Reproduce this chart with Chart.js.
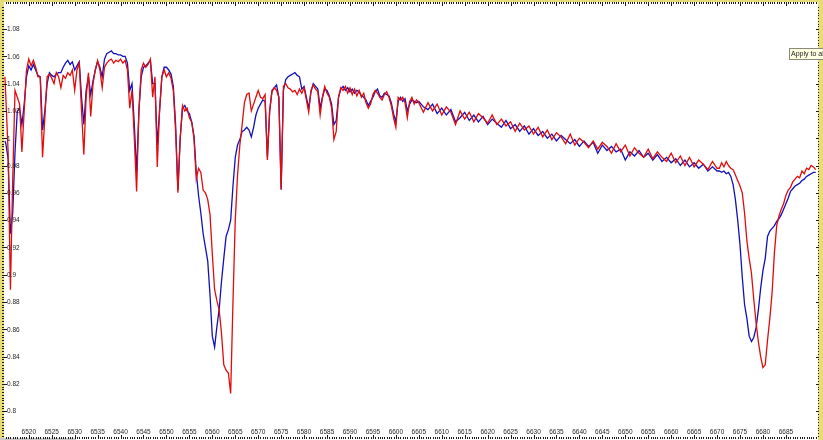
<!DOCTYPE html>
<html>
<head>
<meta charset="utf-8">
<script src="https://cdn.jsdelivr.net/npm/chart.js@4.4.0/dist/chart.umd.min.js"></script>
<style>
html, body { margin:0; padding:0; background:#fff; }
#wrap { width:823px; height:440px; position:relative; }
</style>
</head>
<body>
<div id="wrap"><canvas id="spec"></canvas></div>
<script>
// wavelength grid (Angstrom) shared by both spectra
var wavelength = [
6514.8,6515,6515.5,6516,6516.5,6517,6517.5,6518,6518.5,6519,6519.5,
6520,6520.5,6521,6521.5,6522,6522.5,6523,6523.5,6524,6524.5,
6525,6525.5,6526,6526.5,6527,6527.5,6528,6528.5,6529,6529.5,
6530,6530.5,6531,6531.5,6532,6532.5,6533,6533.5,6534,6534.5,
6535,6535.5,6536,6536.5,6537,6537.5,6538,6538.5,6539,6539.5,
6540,6540.5,6541,6541.5,6542,6542.5,6543,6543.5,6544,6544.5,
6545,6545.5,6546,6546.5,6547,6547.5,6548,6548.5,6549,6549.5,
6550,6550.5,6551,6551.5,6552,6552.5,6553,6553.5,6554,6554.5,
6555,6555.5,6556,6556.5,6557,6557.5,6558,6558.5,6559,6559.5,
6560,6560.5,6561,6561.5,6562,6562.5,6563,6563.5,6564,6564.5,
6565,6565.5,6566,6566.5,6567,6567.5,6568,6568.5,6569,6569.5,
6570,6570.5,6571,6571.5,6572,6572.5,6573,6573.5,6574,6574.5,
6575,6575.5,6576,6576.5,6577,6577.5,6578,6578.5,6579,6579.5,
6580,6580.5,6581,6581.5,6582,6582.5,6583,6583.5,6584,6584.5,
6585,6585.5,6586,6586.5,6587,6587.5,6588,6588.5,6589,6589.5,
6590,6590.5,6591,6591.5,6592,6592.5,6593,6593.5,6594,6594.5,
6595,6595.5,6596,6596.5,6597,6597.5,6598,6598.5,6599,6599.5,
6600,6600.5,6601,6601.5,6602,6602.5,6603,6603.5,6604,6604.5,6605,
6606,6607,6608,6609,6610,6611,6612,6613,6614,6615,
6616,6617,6618,6619,6620,6621,6622,6623,6624,6625,
6626,6627,6628,6629,6630,6631,6632,6633,6634,6635,
6636,6637,6638,6639,6640,6641,6642,6643,6644,6645,
6646,6647,6648,6649,6650,6651,6652,6653,6654,6655,
6656,6657,6658,6659,6660,6661,6662,6663,6664,6665,
6666,6667,6668,6669,6670,
6670.5,6671,6671.5,6672,6672.5,6673,6673.5,6674,6674.5,6675,
6675.5,6676,6676.5,6677,6677.5,6678,6678.5,6679,6679.5,6680,
6680.5,6681,6681.5,6682,6682.5,6683,6683.5,6684,6684.5,6685,
6685.5,6686,6686.5,6687,6687.5,6688,6688.5,6689,6689.5,6690,
6690.5,6691,6691.5
];

var fluxRed = [
1.045,1.030,0.990,0.889,0.970,1.035,1.030,1.025,0.990,1.020,1.050,
1.058,1.053,1.057,1.052,1.045,1.045,0.986,1.015,1.045,1.047,
1.044,1.040,1.048,1.045,1.037,1.046,1.044,1.048,1.046,1.050,
1.035,1.050,1.055,1.020,0.988,1.030,1.048,1.016,1.040,1.050,
1.057,1.050,1.037,1.052,1.055,1.057,1.058,1.055,1.057,1.056,
1.058,1.055,1.057,1.050,1.022,1.035,1.000,0.961,1.020,1.050,
1.055,1.052,1.054,1.058,1.030,1.045,0.979,1.020,1.045,1.050,
1.045,1.048,1.044,1.035,1.005,0.960,1.000,1.024,1.020,1.022,
1.015,1.012,1.000,0.970,0.978,0.975,0.962,0.960,0.955,0.944,
0.915,0.889,0.881,0.874,0.857,0.834,0.830,0.828,0.813,0.880,
0.940,0.973,0.995,1.010,1.026,1.032,1.033,1.020,1.025,1.030,
1.035,1.030,1.029,1.032,0.984,1.020,1.034,1.037,1.035,1.030,
0.962,1.038,1.040,1.037,1.036,1.034,1.035,1.032,1.036,1.033,
1.037,1.028,1.019,1.035,1.039,1.036,1.034,1.017,1.030,1.038,
1.033,1.030,1.022,0.999,1.005,1.030,1.037,1.035,1.038,1.033,
1.037,1.032,1.036,1.031,1.035,1.030,1.033,1.026,1.022,1.025,
1.032,1.035,1.033,1.030,1.028,1.032,1.034,1.030,1.024,1.015,
1.008,1.030,1.028,1.030,1.026,1.015,1.027,1.030,1.025,1.028,1.026,
1.019,1.026,1.020,1.025,1.017,1.023,1.019,1.010,1.020,1.014,
1.019,1.012,1.018,1.015,1.011,1.017,1.010,1.014,1.009,1.012,
1.005,1.011,1.006,1.009,1.003,1.008,1.001,1.006,0.999,1.004,
1.001,0.996,1.003,0.995,1.000,0.997,0.993,0.998,0.992,0.997,
0.994,0.989,0.996,0.990,0.995,0.987,0.993,0.989,0.986,0.992,
0.985,0.990,0.986,0.983,0.989,0.982,0.987,0.980,0.986,0.979,
0.984,0.981,0.977,0.983,0.978,
0.978,0.982,0.979,0.983,0.980,0.978,0.977,0.973,0.969,0.965,
0.960,0.945,0.925,0.912,0.901,0.882,0.865,0.851,0.840,0.832,
0.834,0.852,0.868,0.887,0.916,0.936,0.943,0.948,0.952,0.958,
0.962,0.964,0.968,0.970,0.972,0.971,0.976,0.974,0.978,0.977,
0.980,0.979,0.977
];

var fluxBlue = [
0.998,0.996,0.985,0.930,0.945,0.990,1.020,1.022,1.010,1.025,1.045,
1.053,1.050,1.054,1.050,1.046,1.045,1.006,1.020,1.040,1.048,
1.046,1.045,1.047,1.048,1.048,1.052,1.055,1.057,1.054,1.056,
1.050,1.053,1.056,1.030,1.010,1.035,1.045,1.032,1.042,1.050,
1.056,1.052,1.045,1.058,1.062,1.063,1.064,1.062,1.062,1.061,
1.061,1.060,1.060,1.055,1.035,1.040,1.010,0.975,1.020,1.045,
1.052,1.053,1.055,1.057,1.040,1.040,0.995,1.020,1.045,1.052,
1.052,1.050,1.047,1.038,1.010,0.962,1.000,1.022,1.024,1.020,
1.018,1.012,1.002,0.975,0.958,0.945,0.930,0.920,0.910,0.885,
0.855,0.847,0.862,0.875,0.895,0.912,0.928,0.933,0.940,0.965,
0.986,0.995,0.999,1.005,1.006,1.008,1.006,1.001,1.008,1.017,
1.022,1.025,1.028,1.027,0.986,1.020,1.035,1.037,1.039,1.030,
0.963,1.035,1.043,1.045,1.046,1.047,1.048,1.046,1.045,1.036,
1.038,1.030,1.022,1.034,1.040,1.038,1.036,1.022,1.030,1.036,
1.035,1.031,1.025,1.010,1.013,1.030,1.036,1.038,1.035,1.037,
1.034,1.036,1.033,1.035,1.034,1.031,1.030,1.028,1.024,1.027,
1.030,1.034,1.036,1.031,1.030,1.033,1.032,1.031,1.026,1.018,
1.012,1.027,1.030,1.027,1.029,1.020,1.025,1.028,1.027,1.026,1.027,
1.023,1.021,1.025,1.018,1.022,1.017,1.021,1.012,1.015,1.019,
1.013,1.017,1.012,1.016,1.010,1.014,1.011,1.008,1.013,1.007,
1.010,1.005,1.009,1.003,1.007,1.002,1.005,1.000,1.003,0.998,
1.002,0.999,0.996,0.999,0.994,0.998,0.994,0.997,0.989,0.995,
0.991,0.994,0.990,0.992,0.984,0.990,0.987,0.991,0.986,0.989,
0.984,0.988,0.983,0.986,0.982,0.985,0.980,0.984,0.979,0.982,
0.978,0.981,0.976,0.979,0.976,
0.976,0.975,0.976,0.974,0.975,0.972,0.966,0.955,0.940,0.922,
0.898,0.878,0.868,0.855,0.851,0.854,0.861,0.874,0.890,0.903,
0.912,0.928,0.932,0.934,0.936,0.939,0.941,0.944,0.948,0.952,
0.956,0.961,0.963,0.965,0.966,0.967,0.969,0.970,0.972,0.973,
0.974,0.975,0.975
];

var xTicks = [6520,6525,6530,6535,6540,6545,6550,6555,6560,6565,6570,6575,6580,6585,6590,
  6595,6600,6605,6610,6615,6620,6625,6630,6635,6640,6645,6650,6655,6660,6665,6670,6675,6680,6685];
var yTicks = [0.8,0.82,0.84,0.86,0.88,0.9,0.92,0.94,0.96,0.98,1,1.02,1.04,1.06,1.08];
var yTickLabels = ['0.8','0.82','0.84','0.86','0.88','0.9','0.92','0.94','0.96','0.98','1','1.02','1.04','1.06','1.08'];

function toPoints(xs, ys) {
    var pts = [];
    for (var i = 0; i < xs.length; i++) pts.push({ x: xs[i], y: ys[i] });
    return pts;
}

// yellow frame, dotted tick rulers, labels inside the plot
var framePlugin = {
    id: 'frame',
    beforeDraw: function(chart) {
        var ctx = chart.ctx;
        ctx.save();
        ctx.fillStyle = '#ffffff';
        ctx.fillRect(0, 0, chart.width, chart.height);
        ctx.restore();
    },
    afterDraw: function(chart) {
        var ctx = chart.ctx, a = chart.chartArea;
        var xs = chart.scales.x, ys = chart.scales.y;
        var W = chart.width, H = chart.height;
        var i, p;
        ctx.save();
        // yellow border strips
        ctx.fillStyle = '#e6dd78';
        ctx.fillRect(0, 0, a.left, H);
        ctx.fillRect(a.right, 0, W - a.right, H);
        ctx.fillRect(0, 0, W, 2);
        ctx.fillStyle = '#c9c9c9';
        ctx.fillRect(0, a.bottom + 1, 76, H - a.bottom);
        // rulers
        ctx.strokeStyle = '#1a1a1a';
        ctx.lineWidth = 1;
        ctx.beginPath();
        for (i = 0; i <= 354; i++) {
            p = Math.round(xs.getPixelForValue(6515 + i * 0.5)) + 0.5;
            if (p < a.left || p > a.right) continue;
            ctx.moveTo(p, 2); ctx.lineTo(p, 4);
            ctx.moveTo(p, a.bottom); ctx.lineTo(p, a.bottom + 2);
        }
        for (i = 0; i <= 160; i++) {
            p = Math.round(ys.getPixelForValue(0.782 + i * 0.002)) + 0.5;
            if (p < a.top || p > a.bottom) continue;
            ctx.moveTo(a.left - 2, p); ctx.lineTo(a.left, p);
            ctx.moveTo(a.right, p); ctx.lineTo(a.right + 1, p);
        }
        ctx.stroke();
        ctx.beginPath();
        for (i = 0; i < yTicks.length; i++) {
            p = Math.round(ys.getPixelForValue(yTicks[i])) + 0.5;
            ctx.moveTo(a.left - 2, p); ctx.lineTo(a.left + 3, p);
            ctx.moveTo(a.right - 2, p); ctx.lineTo(a.right + 1, p);
        }
        for (i = 0; i < xTicks.length; i++) {
            p = Math.round(xs.getPixelForValue(xTicks[i])) + 0.5;
            ctx.moveTo(p, a.bottom - 2); ctx.lineTo(p, a.bottom + 2);
            ctx.moveTo(p, 2); ctx.lineTo(p, 6);
        }
        ctx.stroke();
        // labels
        ctx.fillStyle = '#262626';
        ctx.font = '6.5px "Liberation Sans", Arial, sans-serif';
        ctx.textBaseline = 'middle';
        ctx.textAlign = 'left';
        for (i = 0; i < yTicks.length; i++) {
            ctx.fillText(yTickLabels[i], a.left + 3, ys.getPixelForValue(yTicks[i]) + 0.5);
        }
        ctx.textAlign = 'center';
        for (i = 0; i < xTicks.length; i++) {
            ctx.fillText(String(xTicks[i]), xs.getPixelForValue(xTicks[i]), a.bottom - 5);
        }
        // tooltip fragment at the right edge
        ctx.fillStyle = '#ffffe1';
        ctx.fillRect(789.5, 48.5, 40, 11);
        ctx.strokeStyle = '#8a8a7a';
        ctx.strokeRect(789.5, 48.5, 40, 11);
        ctx.fillStyle = '#222';
        ctx.textAlign = 'left';
        ctx.font = '7px "Liberation Sans", Arial, sans-serif';
        ctx.fillText('Apply to all', 791, 54.5);
        ctx.restore();
    }
};

new Chart(document.getElementById('spec').getContext('2d'), {
    type: 'line',
    data: {
        datasets: [
            { label: 'red', data: toPoints(wavelength, fluxRed), borderColor: '#e30b0b', borderWidth: 1.3 },
            { label: 'blue', data: toPoints(wavelength, fluxBlue), borderColor: '#1010bd', borderWidth: 1.3 }
        ]
    },
    options: {
        responsive: true,
        maintainAspectRatio: false,
        animation: false,
        layout: { padding: { left: 4, right: 5, top: 5, bottom: 3 } },
        plugins: { legend: { display: false }, tooltip: { enabled: false } },
        elements: { point: { radius: 0 }, line: { tension: 0 } },
        scales: {
            x: { type: 'linear', min: 6514.6, max: 6692, display: false },
            y: { min: 0.7811, max: 1.0976, display: false }
        }
    },
    plugins: [framePlugin]
});
</script>
</body>
</html>
